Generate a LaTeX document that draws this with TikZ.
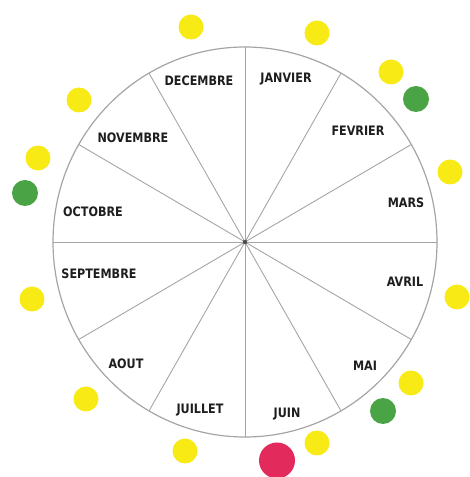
\documentclass[tikz,border=0pt]{standalone}
\usepackage{fontspec}
\newfontfamily\moisfont{DejaVu Sans}[FakeStretch=0.86]
\usetikzlibrary{calc}
\definecolor{jaune}{RGB}{248,234,20}
\definecolor{vert}{RGB}{74,163,68}
\definecolor{rose}{RGB}{226,42,92}
\definecolor{trait}{RGB}{165,165,165}
\definecolor{encre}{RGB}{30,30,30}
\tikzset{
  roue/.style={draw=trait, line width=1.2pt},
  rayon/.style={draw=trait, line width=0.9pt},
  mois/.style={font=\moisfont\bfseries\fontsize{13}{15}\selectfont, text=encre, inner sep=0pt},
  pj/.style={circle, fill=jaune, minimum size=25pt, inner sep=0pt},
  pv/.style={circle, fill=vert, minimum size=26pt, inner sep=0pt},
  pr/.style={circle, fill=rose, minimum size=36pt, inner sep=0pt},
}
\begin{document}
\begin{tikzpicture}[x=1pt, y=1pt]
  \useasboundingbox (0,0) rectangle (469,477);
  \coordinate (c) at (245,235);
  % la roue et ses rayons
  \draw[roue] (c) ellipse [x radius=192, y radius=195];
  \draw[rayon] ($(c)+(90:192 and 195)$) -- ($(c)+(270:192 and 195)$);
  \draw[rayon] ($(c)+(60:192 and 195)$) -- ($(c)+(240:192 and 195)$);
  \draw[rayon] ($(c)+(30:192 and 195)$) -- ($(c)+(210:192 and 195)$);
  \draw[rayon] ($(c)+(0:192 and 195)$) -- ($(c)+(180:192 and 195)$);
  \draw[rayon] ($(c)+(-30:192 and 195)$) -- ($(c)+(150:192 and 195)$);
  \draw[rayon] ($(c)+(-60:192 and 195)$) -- ($(c)+(120:192 and 195)$);
  \fill[encre!80] (c) circle (2.2);
  % les mois
  \node[mois] (jan) at (286,398) {JANVIER};
  \node[mois] (fev) at (358,346) {FEVRIER};
  \node[mois] (mar) at (406,274) {MARS};
  \node[mois] (avr) at (405,195) {AVRIL};
  \node[mois] (mai) at (365,111) {MAI};
  \node[mois] (jun) at (287,63)  {JUIN};
  \node[mois] (jul) at (200,67)  {JUILLET};
  \node[mois] (aou) at (126,113) {AOUT};
  \node[mois] (sep) at (99,203)  {SEPTEMBRE};
  \node[mois] (oct) at (93,265)  {OCTOBRE};
  \node[mois] (nov) at (133,339) {NOVEMBRE};
  \node[mois] (dec) at (199,396) {DECEMBRE};
  % les pastilles
  \node[pj] (p1)  at (191,450) {};
  \node[pj] (p2)  at (317,444) {};
  \node[pj] (p3)  at (391,405) {};
  \node[pv] (v1)  at (416,378) {};
  \node[pj] (p4)  at (79,377)  {};
  \node[pj] (p5)  at (38,319)  {};
  \node[pv] (v2)  at (25,284)  {};
  \node[pj] (p6)  at (450,305) {};
  \node[pj] (p7)  at (32,178)  {};
  \node[pj] (p8)  at (457,180) {};
  \node[pj] (p9)  at (86,78)   {};
  \node[pj] (p10) at (185,26)  {};
  \node[pr] (r1)  at (277,16.5) {};
  \node[pj] (p11) at (317,34)  {};
  \node[pv] (v3)  at (383,66)  {};
  \node[pj] (p12) at (411,94)  {};
\end{tikzpicture}
\end{document}
